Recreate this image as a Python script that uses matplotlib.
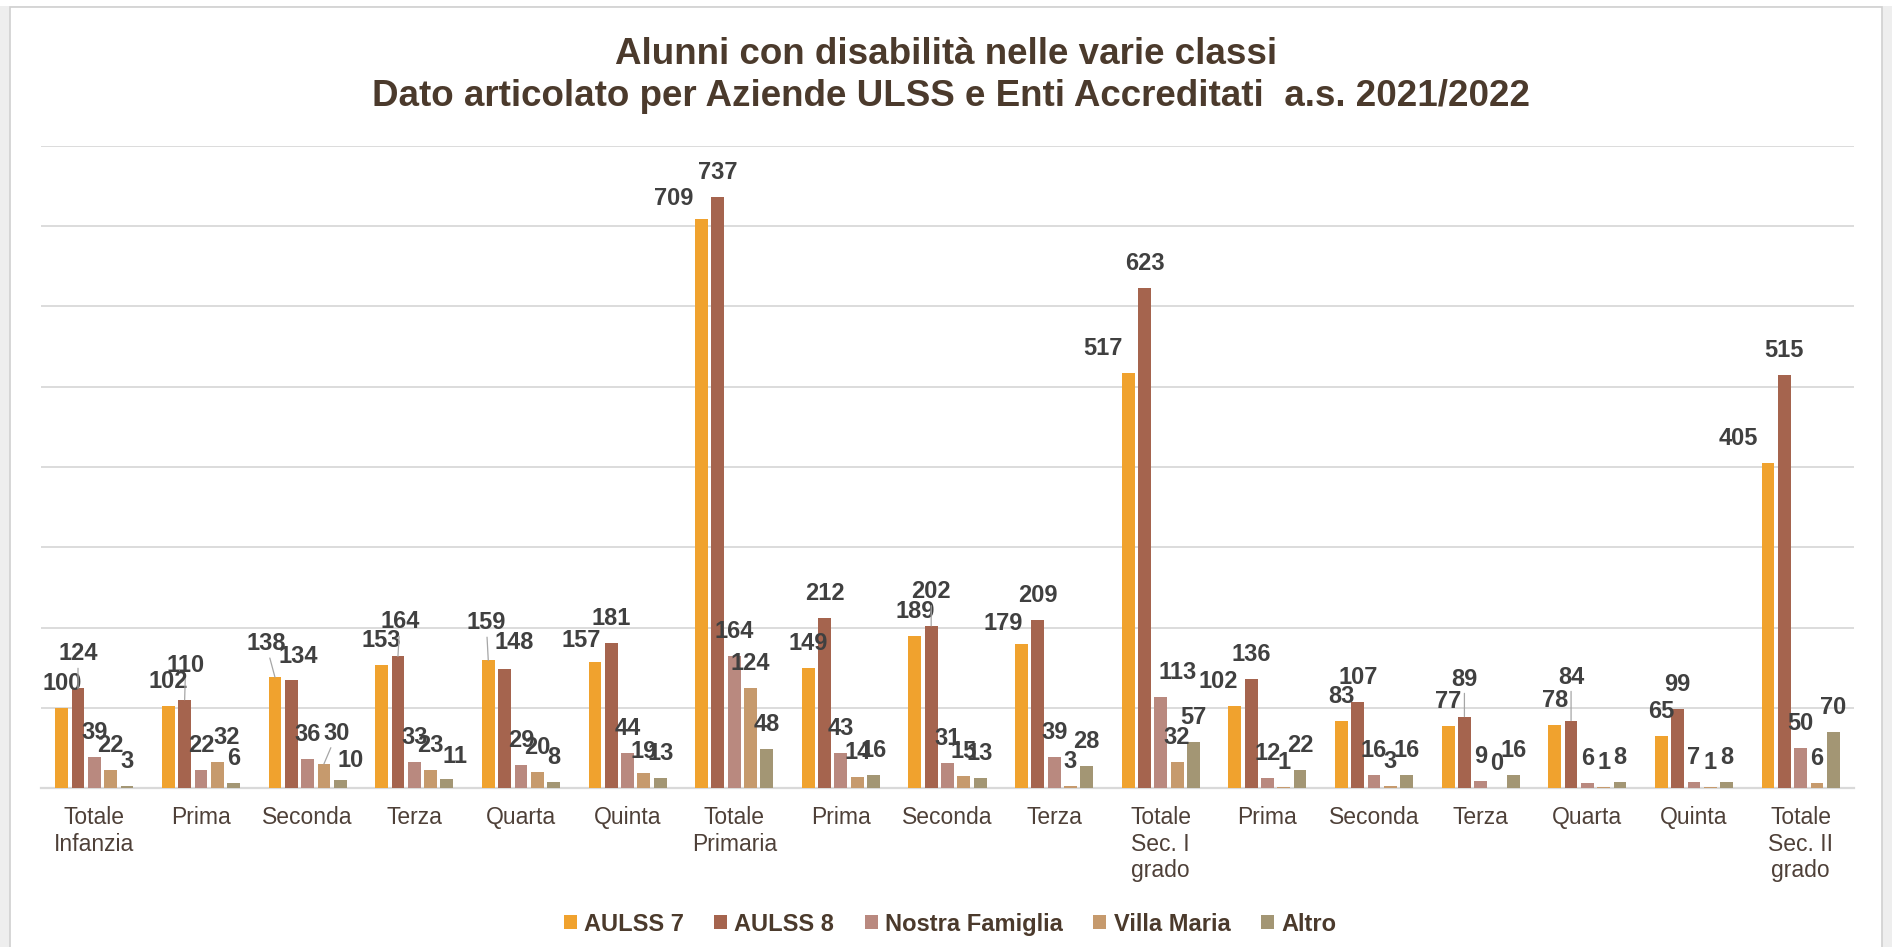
import matplotlib.pyplot as plt
import numpy as np
from matplotlib.patches import Rectangle

plt.rcParams['font.family'] = ['Liberation Sans', 'DejaVu Sans']

categories = ["Totale\nInfanzia", "Prima", "Seconda", "Terza", "Quarta", "Quinta",
              "Totale\nPrimaria", "Prima", "Seconda", "Terza", "Totale\nSec. I\ngrado",
              "Prima", "Seconda", "Terza", "Quarta", "Quinta", "Totale\nSec. II\ngrado"]
series = ["AULSS 7", "AULSS 8", "Nostra Famiglia", "Villa Maria", "Altro"]

aulss7 = [100, 102, 138, 153, 159, 157, 709, 149, 189, 179, 517, 102, 83, 77, 78, 65, 405]
aulss8 = [124, 110, 134, 164, 148, 181, 737, 212, 202, 209, 623, 136, 107, 89, 84, 99, 515]
nostra_famiglia = [39, 22, 36, 33, 29, 44, 164, 43, 31, 39, 113, 12, 16, 9, 6, 7, 50]
villa_maria = [22, 32, 30, 23, 20, 19, 124, 14, 15, 3, 32, 1, 3, 0, 1, 1, 6]
altro = [3, 6, 10, 11, 8, 13, 48, 16, 13, 28, 57, 22, 16, 16, 8, 8, 70]

colors = ["#F0A22E", "#A5644E", "#B9897F", "#C69A6D", "#A39674"]

# manual label nudges (pixels): (series, category) -> (dx, dy, leader line)
nudges = {
    (1, 0): (0, 10, True), (1, 1): (1, 10, True), (3, 1): (9, 0, False),
    (0, 2): (-9, 9, True), (1, 2): (7, -1, False), (3, 2): (13, 6, True),
    (4, 2): (10, -5, False), (1, 3): (2, 10, True), (4, 3): (8, -2, False),
    (0, 4): (-2, 13, True), (1, 4): (10, 2, False), (0, 5): (-14, -3, False),
    (3, 5): (0, -3, False), (0, 6): (-28, -4, False), (1, 8): (0, 10, True),
    (0, 9): (-18, -4, False), (0, 10): (-25, 0, False), (2, 10): (17, 0, False),
    (0, 11): (-17, 0, False), (1, 13): (0, 13, True), (1, 14): (0, 19, True),
    (0, 16): (-30, 0, False),
}

fig = plt.figure(figsize=(18.92, 9.47), dpi=100, facecolor="#EEEEEE")
fig.patches.append(Rectangle((10 / 1892, -0.01), 1872 / 1892, 1.01 - 7 / 947, transform=fig.transFigure,
                             facecolor="white", edgecolor="#D0D0D0", linewidth=1.2, zorder=-5))
fig.patches.append(Rectangle((0, 1 - 6 / 947), 1, 6 / 947, transform=fig.transFigure,
                             facecolor="white", edgecolor="none", zorder=-5))

ax = fig.add_axes([41 / 1892, 1 - 788 / 947, 1813 / 1892, 642 / 947])
ax.set_zorder(2)
ax.set_facecolor("none")

x = np.arange(len(categories))
slot = 0.153
width = 0.12
data = [aulss7, aulss8, nostra_famiglia, villa_maria, altro]
for j, (name, vals) in enumerate(zip(series, data)):
    pos = x + (j - 2) * slot
    ax.bar(pos, vals, width, color=colors[j], label=name, zorder=3)
    for i, v in enumerate(vals):
        dx, dy, leader = nudges.get((j, i), (0, 0, False))
        kw = {}
        if leader:
            kw["arrowprops"] = dict(arrowstyle="-", color="#A6A6A6", lw=0.9,
                                    shrinkA=0, shrinkB=0)
        ax.annotate(str(v), (pos[i], v), xytext=(dx * 0.72, (24.5 + dy) * 0.72),
                    textcoords="offset points", ha="center", va="center",
                    fontsize=17, fontweight="bold", color="#404040", zorder=5, **kw)

ax.set_ylim(0, 800)
ax.set_xlim(-0.5, len(categories) - 0.5)
ax.set_yticks(np.arange(100, 801, 100))
ax.yaxis.grid(True, color="#D9D9D9", linewidth=1.3, zorder=0)
ax.set_yticklabels([])
ax.tick_params(axis="y", length=0)
ax.set_xticks(x)
ax.set_xticklabels(categories, fontsize=16.5, color="#4E4038", linespacing=1.2)
ax.tick_params(axis="x", length=0, pad=13)
for s in ["top", "right", "left"]:
    ax.spines[s].set_visible(False)
ax.spines["bottom"].set_color("#D9D9D9")
ax.spines["bottom"].set_linewidth(1.6)

fig.text(0.5, 1 - 64 / 947, "Alunni con disabilità nelle varie classi", ha="center",
         va="baseline", fontsize=26.5, fontweight="bold", color="#4B3A2C")
fig.text(0.5025, 1 - 106 / 947, "Dato articolato per Aziende ULSS e Enti Accreditati  a.s. 2021/2022",
         ha="center", va="baseline", fontsize=26.5, fontweight="bold", color="#4B3A2C")

leg = fig.legend(loc="center", bbox_to_anchor=(0.502, 1 - 924 / 947), ncol=5, frameon=False,
                 handlelength=0.55, handleheight=0.55, handletextpad=0.3, columnspacing=1.3,
                 prop={"size": 17, "weight": "bold"})
for t in leg.get_texts():
    t.set_color("#4B3A2C")

fig.savefig("out.png", dpi=100, facecolor=fig.get_facecolor())
